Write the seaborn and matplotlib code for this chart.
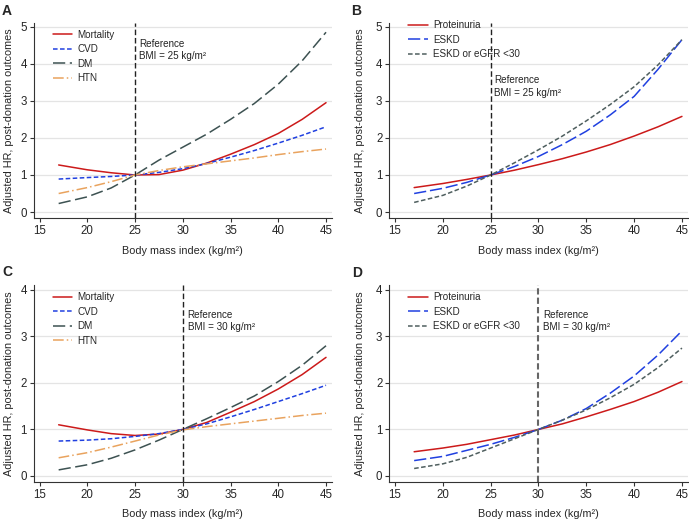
import matplotlib
matplotlib.use("Agg")
import matplotlib.pyplot as plt
import seaborn as sns
import numpy as np

bmi = [17, 20, 22.5, 25, 27.5, 30, 32.5, 35, 37.5, 40, 42.5, 45]

# Panel A - reference BMI 25
a_mortality = [1.27, 1.14, 1.06, 1.00, 1.01, 1.13, 1.32, 1.56, 1.82, 2.12, 2.50, 2.95]
a_cvd = [0.89, 0.93, 0.96, 1.00, 1.07, 1.17, 1.31, 1.48, 1.66, 1.86, 2.07, 2.30]
a_dm = [0.23, 0.41, 0.65, 1.00, 1.40, 1.75, 2.10, 2.50, 2.93, 3.45, 4.08, 4.85]
a_htn = [0.50, 0.66, 0.82, 1.00, 1.12, 1.22, 1.30, 1.38, 1.46, 1.55, 1.63, 1.70]

# Panel B - reference BMI 25
b_prot = [0.66, 0.77, 0.88, 1.00, 1.13, 1.28, 1.44, 1.62, 1.82, 2.05, 2.30, 2.58]
b_eskd = [0.50, 0.64, 0.80, 1.00, 1.23, 1.50, 1.82, 2.18, 2.62, 3.12, 3.85, 4.65]
b_egfr = [0.26, 0.45, 0.70, 1.00, 1.33, 1.68, 2.05, 2.46, 2.90, 3.38, 3.97, 4.65]

# Panel C - reference BMI 30
c_mortality = [1.10, 0.99, 0.91, 0.87, 0.90, 1.00, 1.15, 1.37, 1.60, 1.87, 2.18, 2.55]
c_cvd = [0.75, 0.77, 0.80, 0.85, 0.91, 1.00, 1.12, 1.27, 1.43, 1.60, 1.77, 1.95]
c_dm = [0.13, 0.24, 0.38, 0.56, 0.77, 1.00, 1.23, 1.47, 1.72, 2.03, 2.38, 2.80]
c_htn = [0.39, 0.50, 0.62, 0.75, 0.88, 0.99, 1.06, 1.12, 1.18, 1.24, 1.30, 1.35]

# Panel D - reference BMI 30
d_prot = [0.52, 0.60, 0.68, 0.78, 0.88, 1.00, 1.12, 1.27, 1.43, 1.60, 1.80, 2.03]
d_eskd = [0.33, 0.42, 0.55, 0.68, 0.83, 1.00, 1.20, 1.45, 1.78, 2.15, 2.60, 3.12]
d_egfr = [0.16, 0.26, 0.40, 0.60, 0.80, 1.00, 1.20, 1.42, 1.68, 1.97, 2.33, 2.75]

x_ticks = [15, 20, 25, 30, 35, 40, 45]

sns.set_style("ticks")
plt.rcParams['font.family'] = ['Liberation Sans', 'DejaVu Sans']

RED = '#cc1a1a'
BLUE = '#2040e0'
DARK = '#3d5252'
ORANGE = '#e9a35e'
GRAY = '#4f5f5f'

styles_ad = [
    ('Mortality', RED, '-'),
    ('CVD', BLUE, (0, (3, 1.6))),
    ('DM', DARK, (0, (8, 3))),
    ('HTN', ORANGE, (0, (7, 2, 1, 2))),
]
styles_bd = [
    ('Proteinuria', RED, '-'),
    ('ESKD', BLUE, (0, (8, 2.5))),
    ('ESKD or eGFR <30', GRAY, (0, (3, 1.6))),
]

fig = plt.figure(figsize=(6.89, 5.21), dpi=100)

# letter, axes rect, series, styles, reference BMI, ylim, yticks,
# (x, baseline of "Reference", baseline of "BMI = ..."), legend anchor, xlabel y
panels = [
    ('A', [0.0491, 0.5816, 0.4324, 0.3743], [a_mortality, a_cvd, a_dm, a_htn], styles_ad,
     25, (-0.16, 5.1), range(0, 6), (25.4, 4.45, 4.12), (0.05, 0.985), -0.145),
    ('B', [0.5650, 0.5816, 0.4331, 0.3743], [b_prot, b_eskd, b_egfr], styles_bd,
     25, (-0.16, 5.1), range(0, 6), (25.4, 3.47, 3.14), (0.05, 1.035), -0.145),
    ('C', [0.0491, 0.0749, 0.4324, 0.3775], [c_mortality, c_cvd, c_dm, c_htn], styles_ad,
     30, (-0.13, 4.1), range(0, 5), (30.5, 3.40, 3.13), (0.05, 0.985), -0.138),
    ('D', [0.5650, 0.0749, 0.4331, 0.3775], [d_prot, d_eskd, d_egfr], styles_bd,
     30, (-0.13, 4.1), range(0, 5), (30.5, 3.40, 3.13), (0.05, 0.985), -0.138),
]

letter_pos = {'A': (7, 11), 'B': (356, 11), 'C': (7, 272), 'D': (357, 273)}

for letter, pos, series, styles, ref, ylim, yt, txt, leg, xly in panels:
    ax = fig.add_axes(pos)
    for vals, (lab, col, ls) in zip(series, styles):
        sns.lineplot(x=bmi, y=vals, ax=ax, color=col, linestyle=ls, lw=1.1, label=lab)
    if letter == 'D':
        ax.axvline(ref, color='#666666', lw=1.5, linestyle=(0, (3, 1.5)))
    else:
        ax.axvline(ref, color='#222222', lw=1.0, linestyle=(0, (4, 2)))
    ax.text(txt[0], txt[1], 'Reference', fontsize=7.1, va='baseline', ha='left', color='#222222')
    ax.text(txt[0], txt[2], 'BMI = %d kg/m²' % ref, fontsize=7.1, va='baseline', ha='left',
            color='#222222')

    ax.set_xlim(14.4, 45.6)
    ax.set_ylim(*ylim)
    ax.set_xticks(x_ticks)
    ax.set_yticks(list(yt))
    ax.yaxis.grid(True, color='#e4e4e4', lw=0.9)
    ax.set_axisbelow(True)
    for s in ['top', 'right']:
        ax.spines[s].set_visible(False)
    for s in ['left', 'bottom']:
        ax.spines[s].set_color('#333333')
        ax.spines[s].set_linewidth(0.8)
    ax.tick_params(labelsize=8.3, length=3, width=0.8, color='#333333', pad=2)

    ax.set_xlabel('Body mass index (kg/m²)', fontsize=7.8)
    ax.set_ylabel('Adjusted HR, post-donation outcomes', fontsize=7.8)
    ax.xaxis.set_label_coords(0.5, xly)
    # label anchor is the right edge of the rotated text
    if letter in ('A', 'C'):
        ax.yaxis.set_label_coords(-0.068, 0.5)
    else:
        ax.yaxis.set_label_coords(-0.080, 0.5)

    ax.legend(loc='upper left', bbox_to_anchor=leg, frameon=False, fontsize=7.1,
              handlelength=2.0, handletextpad=0.5, labelspacing=0.45, borderaxespad=0)

    lx, ly = letter_pos[letter]
    fig.text(lx / 689, 1 - ly / 521, letter, fontsize=10, fontweight='bold',
             ha='center', va='center')

fig.savefig('out.png', dpi=100)
